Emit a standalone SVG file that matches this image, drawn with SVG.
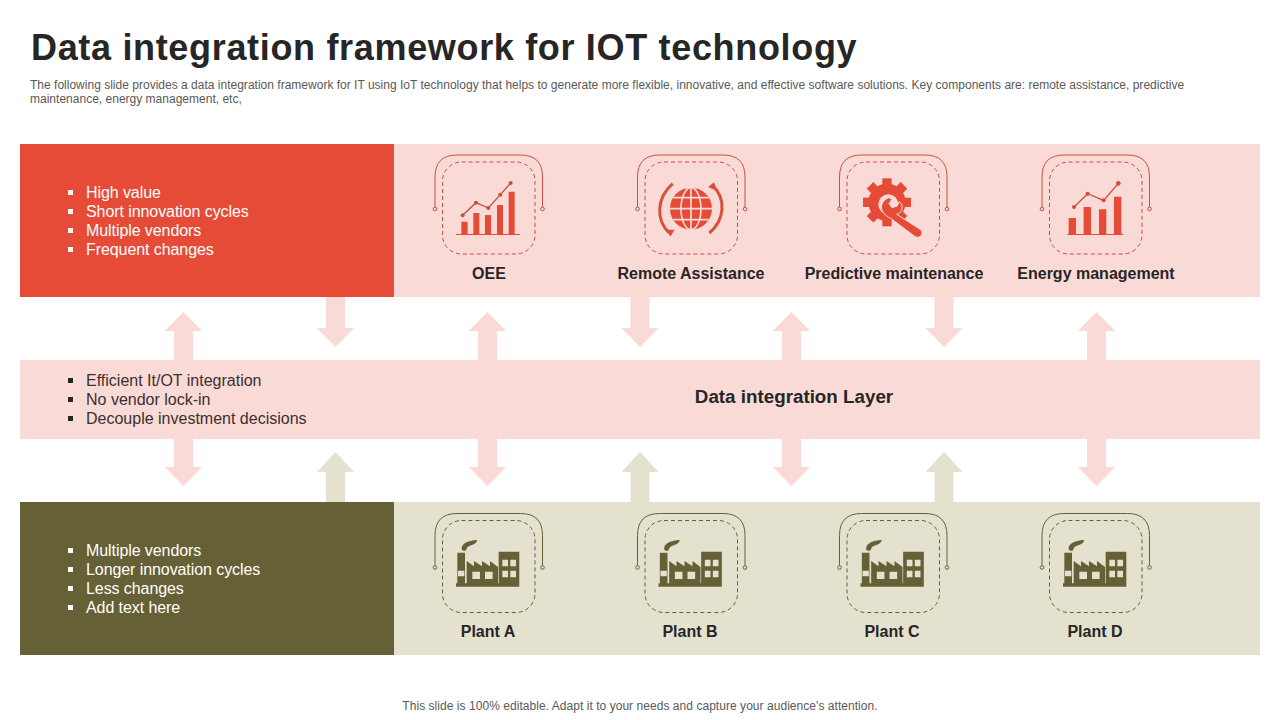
<svg xmlns="http://www.w3.org/2000/svg" width="1280" height="720" viewBox="0 0 1280 720">
<style>
text{font-family:"Liberation Sans",Arial,sans-serif}
.title{font-size:36px;font-weight:700;fill:#262626;letter-spacing:.67px}
.sub{font-size:12px;fill:#595959;letter-spacing:.01px}
.foot{font-size:12px;fill:#595959;text-anchor:middle;letter-spacing:.045px}
.w{font-size:16px;fill:#fff;letter-spacing:-.08px}
.d{font-size:16px;fill:#3a3030}
.lab{font-size:16px;font-weight:700;fill:#262626;text-anchor:middle}
.layer{font-size:18.800px;font-weight:700;fill:#262626;text-anchor:middle}
.ar{fill:#e64b38}.ol{fill:#666036}
.pink{fill:#fadad6}.beige{fill:#e4e2cf}
.fr{fill:none;stroke-width:1}
.ds{fill:none;stroke-width:1;stroke-dasharray:4 3}
.rs{stroke:#c9503f;fill:#fadad6}
.os{stroke:#666036;fill:#e4e2cf}
.ln{fill:none;stroke:#c9503f;stroke-width:4}
.pt{fill:#c9503f}
</style>
<defs>
<g id="frame">
<path class="fr" d="M0 52V22Q0 0 22 0H85.500Q107.500 0 107.500 22V52"/>
<circle cx="0" cy="54" r="1.800"/><circle cx="107.500" cy="54" r="1.800"/>
<rect class="ds" x="7.500" y="7" width="92.500" height="92" rx="19"/>
</g>
<path id="upP" d="M-9.500 48V19H-18.500L0 0 18.500 19H9.500V48Z"/>
<path id="dnP" d="M-9.500 0V31H-18.500L0 50 18.500 31H9.500V0Z"/>
<g id="factory">
<path class="ol" d="M108 245V235H112V143H135V235H140V168L162 184V168L186 184V168L210 184V168L234 186V235H236V140H298V245Z"/>
<path class="beige" d="M114 197H133V214H114ZM157 200H180V222H157ZM195 200H218V222H195ZM247 164H264V184H247ZM271 164H288V184H271ZM247 197H264V217H247ZM271 197H288V217H271Z"/>
<path class="ol" d="M126 136C120 118 142 106 172 105C168 120 152 120 146 124C140 128 140 134 136 138Z"/>
</g>
<rect id="tooth" x="-14" y="-72" width="28" height="30"/>
</defs>

<g id="title-block">
<text class="title" x="31" y="60">Data integration framework for IOT technology</text>
<text class="sub" x="30" y="89">The following slide provides a data integration framework for IT using IoT technology that helps to generate more flexible, innovative, and effective software solutions. Key components are: remote assistance, predictive</text>
<text class="sub" x="30" y="103">maintenance, energy management, etc,</text>
</g>

<g id="connectors">
<g class="pink">
<use href="#upP" x="183.500" y="312"/><use href="#upP" x="487.500" y="312"/><use href="#upP" x="791.500" y="312"/><use href="#upP" x="1096.500" y="312"/>
<use href="#dnP" x="335.500" y="297"/><use href="#dnP" x="640" y="297"/><use href="#dnP" x="944" y="297"/>
<use href="#dnP" x="183.500" y="436"/><use href="#dnP" x="487.500" y="436"/><use href="#dnP" x="791.500" y="436"/><use href="#dnP" x="1096.500" y="436"/>
</g>
<g class="beige">
<path d="M326 502V472H317L335.500 452 354 472H345V502Z"/>
<path d="M630.500 502V472H621.500L640 452 658.500 472H649.500V502Z"/>
<path d="M934.500 502V472H925.500L944 452 962.500 472H953.500V502Z"/>
</g>
</g>

<g id="band-top">
<rect class="pink" x="394" y="144" width="866" height="153"/>
<rect class="ar" x="20" y="144" width="374" height="153"/>
<g fill="#fff"><rect x="68" y="190" width="5" height="5"/><rect x="68" y="209" width="5" height="5"/><rect x="68" y="228" width="5" height="5"/><rect x="68" y="247" width="5" height="5"/></g>
<text class="w" x="86" y="198">High value</text>
<text class="w" x="86" y="217">Short innovation cycles</text>
<text class="w" x="86" y="236">Multiple vendors</text>
<text class="w" x="86" y="255">Frequent changes</text>
</g>

<g id="band-middle">
<rect class="pink" x="20" y="360" width="1240" height="79"/>
<g fill="#262626"><rect x="68" y="378" width="5" height="5"/><rect x="68" y="397" width="5" height="5"/><rect x="68" y="416" width="5" height="5"/></g>
<text class="d" x="86" y="386">Efficient It/OT integration</text>
<text class="d" x="86" y="405">No vendor lock-in</text>
<text class="d" x="86" y="424">Decouple investment decisions</text>
<text class="layer" x="794" y="402.500">Data integration Layer</text>
</g>

<g id="band-bottom">
<rect class="beige" x="394" y="502" width="866" height="153"/>
<rect class="ol" x="20" y="502" width="374" height="153"/>
<g fill="#fff"><rect x="68" y="548" width="5" height="5"/><rect x="68" y="567" width="5" height="5"/><rect x="68" y="586" width="5" height="5"/><rect x="68" y="605" width="5" height="5"/></g>
<text class="w" x="86" y="556">Multiple vendors</text>
<text class="w" x="86" y="575">Longer innovation cycles</text>
<text class="w" x="86" y="594">Less changes</text>
<text class="w" x="86" y="613">Add text here</text>
</g>

<g id="node-oee">
<use class="rs" href="#frame" x="435" y="155"/>
<g transform="translate(420 145) scale(.3333)">
<path class="ar" d="M124 230H143V268H124ZM160 204H178V268H160ZM195 210H213V268H195ZM231 180H249V268H231ZM266 140H284V268H266ZM108 267H300V270H108Z"/>
<path class="ln" d="M128 211L168 173 205 189 241 149 272 114"/>
<g class="pt"><circle cx="128" cy="211" r="6"/><circle cx="168" cy="173" r="6"/><circle cx="205" cy="189" r="6"/><circle cx="241" cy="149" r="6"/><circle cx="272" cy="114" r="6"/></g>
</g>
<text class="lab" x="489" y="279">OEE</text>
</g>

<g id="node-remote">
<use class="rs" href="#frame" x="637.500" y="155"/>
<g transform="translate(420 145) scale(.3333)">
<circle class="ar" cx="813" cy="191" r="63"/>
<g fill="none" stroke="#fadad6" stroke-width="5">
<ellipse cx="813" cy="191" rx="30" ry="63"/><path d="M813 128V254M750 191H876M760 158H866M760 224H866"/>
</g>
<g fill="none" stroke="#d9503f" stroke-width="9">
<path d="M758 116C708 160 708 226 748 264"/>
<path d="M878 122C918 160 916 224 868 264"/>
</g>
<path fill="#d9503f" d="M734 254L764 254 752 274ZM864 126L882 112 892 138Z"/>
</g>
<text class="lab" x="691" y="279">Remote Assistance</text>
</g>

<g id="node-predictive">
<use class="rs" href="#frame" x="839.500" y="155"/>
<g transform="translate(820 145) scale(.3333)">
<g class="ar" transform="translate(201 172)">
<circle r="56"/>
<use href="#tooth"/><use href="#tooth" transform="rotate(45)"/><use href="#tooth" transform="rotate(90)"/><use href="#tooth" transform="rotate(135)"/><use href="#tooth" transform="rotate(180)"/><use href="#tooth" transform="rotate(225)"/><use href="#tooth" transform="rotate(270)"/><use href="#tooth" transform="rotate(315)"/>
</g>
<circle class="pink" cx="205" cy="178" r="30"/>
<path class="ar" stroke="#fadad6" stroke-width="3" d="M186 196C180 180 190 164 206 158L216 162 207 176 216 188 232 183 238 170 246 180C248 196 240 206 230 208L302 254C314 266 298 284 284 274L212 220C202 216 192 208 186 196Z"/>
</g>
<text class="lab" x="894" y="279">Predictive maintenance</text>
</g>

<g id="node-energy">
<use class="rs" href="#frame" x="1042" y="155"/>
<g transform="translate(820 145) scale(.3333)">
<path class="ar" d="M746 219H768V268H746ZM791 186H813V268H791ZM837 193H859V268H837ZM882 155H904V268H882ZM742 267H909V270H742Z"/>
<path class="ln" d="M762 186L803 146 851 166 895 115"/>
<g class="pt"><circle cx="762" cy="186" r="6"/><circle cx="803" cy="146" r="6"/><circle cx="851" cy="166" r="6"/><circle cx="895" cy="115" r="7"/></g>
</g>
<text class="lab" x="1096" y="279">Energy management</text>
</g>

<g id="node-plant-a">
<use class="os" href="#frame" x="435" y="513.500"/>
<use href="#factory" transform="translate(420 505) scale(.3333)"/>
<text class="lab" x="488" y="637">Plant A</text>
</g>
<g id="node-plant-b">
<use class="os" href="#frame" x="637.500" y="513.500"/>
<use href="#factory" transform="translate(622.500 505) scale(.3333)"/>
<text class="lab" x="690" y="637">Plant B</text>
</g>
<g id="node-plant-c">
<use class="os" href="#frame" x="839.500" y="513.500"/>
<use href="#factory" transform="translate(824.500 505) scale(.3333)"/>
<text class="lab" x="892" y="637">Plant C</text>
</g>
<g id="node-plant-d">
<use class="os" href="#frame" x="1042" y="513.500"/>
<use href="#factory" transform="translate(1027 505) scale(.3333)"/>
<text class="lab" x="1095" y="637">Plant D</text>
</g>

<text class="foot" x="640" y="710">This slide is 100% editable. Adapt it to your needs and capture your audience's attention.</text>
</svg>
